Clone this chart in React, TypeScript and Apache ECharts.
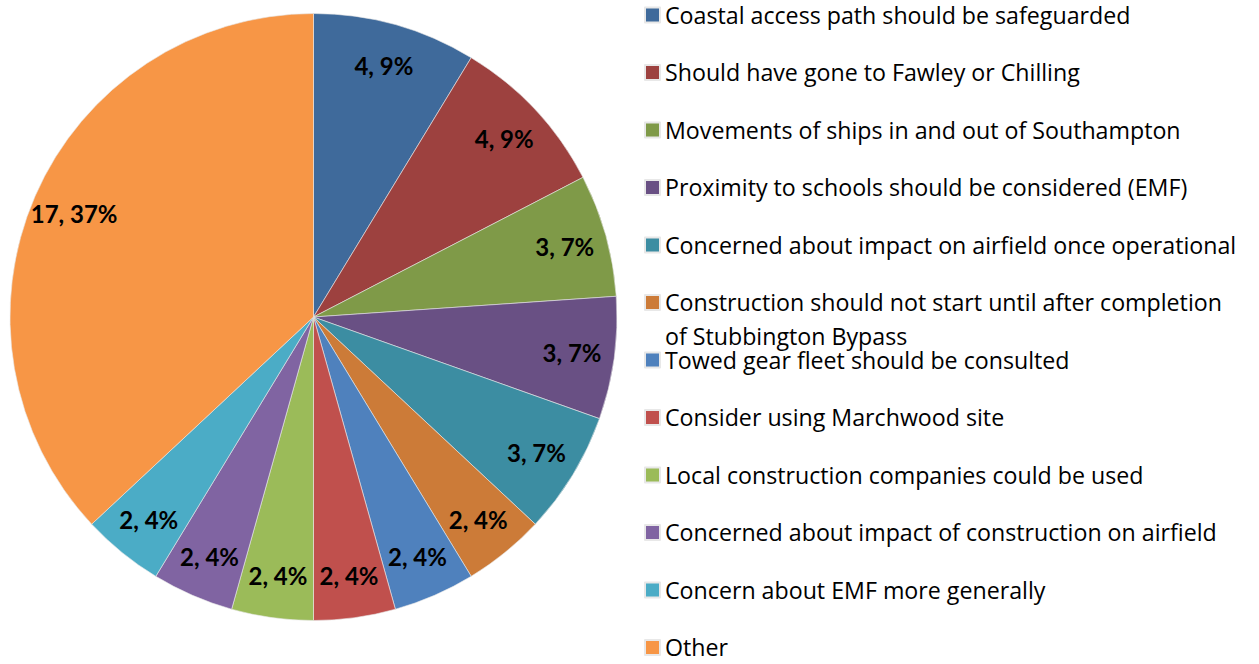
import React, { useEffect, useRef } from "react";
import * as echarts from "echarts";

const categories = [
  "Coastal access path should be safeguarded",
  "Should have gone to Fawley or Chilling",
  "Movements of ships in and out of Southampton",
  "Proximity to schools should be considered (EMF)",
  "Concerned about impact on airfield once operational",
  "Construction should not start until after completion of Stubbington Bypass",
  "Towed gear fleet should be consulted",
  "Consider using Marchwood site",
  "Local construction companies could be used",
  "Concerned about impact of construction on airfield",
  "Concern about EMF more generally",
  "Other",
];
const counts = [4, 4, 3, 3, 3, 2, 2, 2, 2, 2, 2, 17];
const colors = [
  "#3F6A9B", "#9D413F", "#7F9A48", "#695084", "#3C8DA2", "#CC7B38",
  "#4F81BD", "#C0504D", "#9BBB59", "#8064A2", "#4BACC6", "#F79646",
];
const longLabelFirstLine = "Construction should not start until after completion";
const longLabelSecondLine = "of Stubbington Bypass";

export default function App() {
  const ref = useRef<HTMLDivElement>(null);
  useEffect(() => {
    if (!ref.current) return;
    const chart = echarts.init(ref.current, null, { renderer: "svg" });
    const data = categories.map((name, i) => ({
      name,
      value: counts[i],
      itemStyle: { color: colors[i] },
    }));
    const center = [313.5, 317];
    const R = 303.5;
    const legendFont = "Open Sans";
    const legendSize = 23.2;
    chart.setOption({
      animation: false,
      textStyle: { fontFamily: legendFont },
      legend: {
        orient: "vertical",
        left: 644,
        top: 3.4,
        height: 700,
        padding: 0,
        icon: "rect",
        itemWidth: 15,
        itemHeight: 15,
        itemGap: 57.7 - legendSize,
        selectedMode: false,
        data: categories,
        formatter: (name: string) => (name === categories[5] ? longLabelFirstLine : name),
        textStyle: {
          fontFamily: legendFont,
          fontSize: legendSize,
          color: "#000",
        },
      },
      graphic: [
        {
          type: "text",
          left: 665,
          top: 324,
          style: {
            text: longLabelSecondLine,
            font: `${legendSize}px "${legendFont}"`,
            lineHeight: 18,
            fill: "#000",
          },
        },
      ],
      series: [
        {
          type: "pie",
          center,
          radius: [0, R],
          startAngle: 90,
          clockwise: true,
          label: { show: false },
          labelLine: { show: false },
          itemStyle: { borderColor: "#e8e8e8", borderWidth: 0.6 },
          emphasis: { disabled: true },
          data,
        },
        {
          type: "pie",
          center,
          radius: [R * 0.7, R],
          startAngle: 90,
          clockwise: true,
          silent: true,
          percentPrecision: 0,
          itemStyle: { color: "transparent", borderWidth: 0 },
          labelLine: { show: false },
          label: {
            show: true,
            position: "inside",
            formatter: "{c}, {d}%",
            fontFamily: "Lato",
            fontWeight: "bold",
            fontSize: 24,
            color: "#000",
          },
          emphasis: { disabled: true },
          data: categories.map((name, i) => ({ name, value: counts[i] })),
        },
      ],
    });
    return () => chart.dispose();
  }, []);
  return (
    <div
      ref={ref}
      style={{ position: "absolute", left: 0, top: 0, width: 1259, height: 664 }}
    />
  );
}
